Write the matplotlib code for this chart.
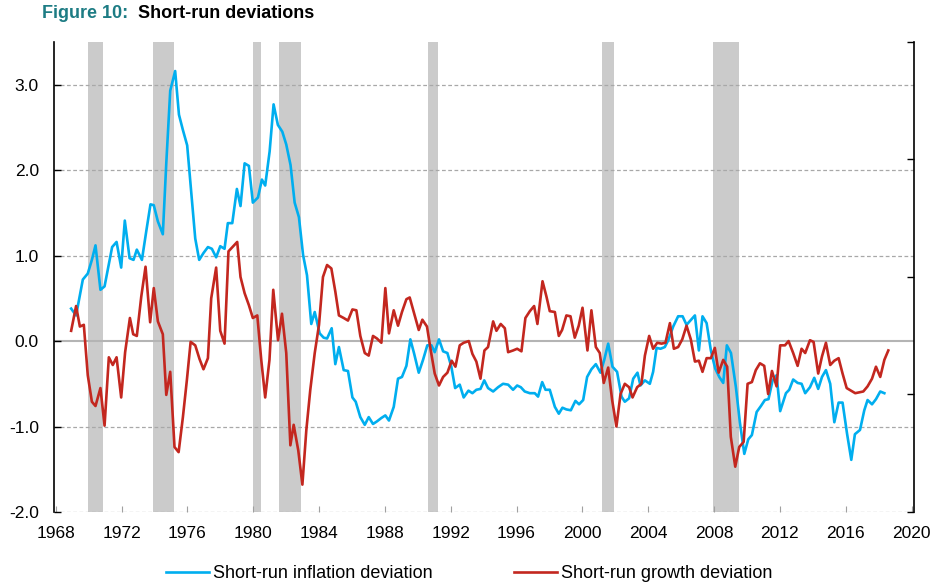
import numpy as np
import matplotlib
matplotlib.use("Agg")
import matplotlib.pyplot as plt

plt.rcParams['font.family'] = ['Liberation Sans', 'DejaVu Sans']
plt.rcParams['axes.unicode_minus'] = False

# short-run inflation deviation
infl_year = [1968.94, 1969.24, 1969.65, 1969.95, 1970.20, 1970.42, 1970.72, 1970.97, 1971.20, 1971.43,
             1971.70, 1971.98, 1972.20, 1972.49, 1972.73, 1972.93, 1973.24, 1973.50, 1973.76, 1973.96,
             1974.21, 1974.51, 1974.72, 1974.96, 1975.26, 1975.49, 1975.73, 1975.99, 1976.24, 1976.48,
             1976.72, 1976.98, 1977.25, 1977.49, 1977.75, 1978.00, 1978.26, 1978.46, 1978.73, 1979.01,
             1979.23, 1979.48, 1979.74, 1979.98, 1980.29, 1980.53, 1980.73, 1981.00, 1981.24, 1981.50,
             1981.77, 1982.01, 1982.27, 1982.52, 1982.78, 1983.03, 1983.27, 1983.53, 1983.74, 1984.04,
             1984.28, 1984.49, 1984.77, 1984.99, 1985.21, 1985.50, 1985.76, 1986.03, 1986.23, 1986.51,
             1986.78, 1987.02, 1987.28, 1987.52, 1987.79, 1988.03, 1988.25, 1988.54, 1988.80, 1989.04,
             1989.31, 1989.55, 1989.77, 1990.06, 1990.32, 1990.58, 1990.83, 1991.03, 1991.29, 1991.54,
             1991.80, 1992.04, 1992.27, 1992.55, 1992.79, 1993.08, 1993.32, 1993.56, 1993.81, 1994.04,
             1994.27, 1994.58, 1994.88, 1995.18, 1995.49, 1995.79, 1996.04, 1996.26, 1996.50, 1996.81,
             1997.11, 1997.31, 1997.56, 1997.76, 1998.02, 1998.33, 1998.57, 1998.79, 1999.03, 1999.30,
             1999.58, 1999.80, 2000.05, 2000.29, 2000.55, 2000.82, 2001.10, 2001.33, 2001.57, 2001.83,
             2002.11, 2002.38, 2002.58, 2002.84, 2003.09, 2003.35, 2003.53, 2003.80, 2004.10, 2004.30,
             2004.51, 2004.75, 2005.01, 2005.22, 2005.52, 2005.82, 2006.09, 2006.33, 2006.84, 2007.08,
             2007.30, 2007.55, 2007.81, 2008.07, 2008.32, 2008.56, 2008.78, 2009.03, 2009.33, 2009.57,
             2009.84, 2010.08, 2010.30, 2010.59, 2010.85, 2011.09, 2011.31, 2011.56, 2011.80, 2012.02,
             2012.37, 2012.57, 2012.81, 2013.08, 2013.32, 2013.54, 2013.83, 2014.09, 2014.33, 2014.56,
             2014.80, 2015.06, 2015.31, 2015.57, 2015.81, 2016.08, 2016.34, 2016.56, 2016.87, 2017.13,
             2017.33, 2017.60, 2017.84, 2018.10, 2018.35]
infl_val = [0.38, 0.30, 0.72, 0.79, 0.95, 1.12, 0.60, 0.64, 0.87, 1.10,
            1.16, 0.86, 1.41, 0.97, 0.95, 1.07, 0.95, 1.28, 1.60, 1.59,
            1.40, 1.25, 2.08, 2.93, 3.16, 2.65, 2.47, 2.29, 1.73, 1.20,
            0.95, 1.03, 1.10, 1.08, 0.98, 1.11, 1.08, 1.38, 1.38, 1.78,
            1.58, 2.08, 2.05, 1.62, 1.68, 1.89, 1.82, 2.22, 2.77, 2.53,
            2.45, 2.30, 2.06, 1.62, 1.45, 1.01, 0.77, 0.20, 0.34, 0.09,
            0.04, 0.03, 0.15, -0.27, -0.07, -0.34, -0.35, -0.66, -0.71, -0.89,
            -0.98, -0.89, -0.97, -0.94, -0.90, -0.87, -0.93, -0.77, -0.44, -0.42,
            -0.29, 0.02, -0.14, -0.37, -0.22, -0.05, -0.05, -0.13, 0.02, -0.12,
            -0.14, -0.30, -0.55, -0.51, -0.66, -0.58, -0.61, -0.57, -0.56, -0.46,
            -0.55, -0.59, -0.54, -0.50, -0.51, -0.57, -0.52, -0.54, -0.59, -0.61,
            -0.61, -0.65, -0.48, -0.57, -0.57, -0.77, -0.85, -0.78, -0.80, -0.81,
            -0.70, -0.74, -0.69, -0.42, -0.33, -0.27, -0.37, -0.22, -0.03, -0.30,
            -0.36, -0.65, -0.71, -0.67, -0.44, -0.37, -0.52, -0.46, -0.50, -0.36,
            -0.08, -0.09, -0.07, 0.01, 0.17, 0.29, 0.29, 0.19, 0.30, -0.11,
            0.29, 0.21, -0.11, -0.32, -0.42, -0.49, -0.05, -0.14, -0.54, -0.95,
            -1.32, -1.15, -1.10, -0.83, -0.76, -0.69, -0.68, -0.46, -0.40, -0.82,
            -0.61, -0.57, -0.45, -0.49, -0.50, -0.61, -0.54, -0.43, -0.56, -0.42,
            -0.34, -0.50, -0.95, -0.72, -0.72, -1.08, -1.39, -1.09, -1.04, -0.81,
            -0.69, -0.74, -0.68, -0.59, -0.61]

# short-run growth deviation
grow_year = [1968.94, 1969.24, 1969.47, 1969.71, 1969.95, 1970.20, 1970.42, 1970.72, 1970.97, 1971.23,
             1971.47, 1971.70, 1971.98, 1972.22, 1972.51, 1972.71, 1972.93, 1973.20, 1973.46, 1973.74,
             1973.96, 1974.21, 1974.51, 1974.72, 1974.96, 1975.22, 1975.47, 1975.73, 1975.97, 1976.20,
             1976.48, 1976.74, 1976.98, 1977.25, 1977.45, 1977.75, 1978.00, 1978.26, 1978.50, 1979.03,
             1979.23, 1979.48, 1979.74, 1979.98, 1980.25, 1980.49, 1980.73, 1980.99, 1981.22, 1981.51,
             1981.75, 1982.01, 1982.26, 1982.46, 1982.74, 1982.99, 1983.23, 1983.47, 1983.74, 1984.00,
             1984.24, 1984.49, 1984.75, 1984.99, 1985.21, 1985.50, 1985.76, 1986.03, 1986.27, 1986.51,
             1986.78, 1987.02, 1987.28, 1987.52, 1987.79, 1988.03, 1988.25, 1988.54, 1988.80, 1989.04,
             1989.31, 1989.51, 1989.77, 1990.06, 1990.28, 1990.56, 1990.79, 1991.03, 1991.29, 1991.54,
             1991.80, 1992.06, 1992.29, 1992.55, 1992.79, 1993.10, 1993.32, 1993.56, 1993.81, 1994.05,
             1994.27, 1994.58, 1994.78, 1995.04, 1995.29, 1995.49, 1995.79, 1996.04, 1996.30, 1996.54,
             1996.81, 1997.07, 1997.27, 1997.58, 1997.82, 1998.02, 1998.33, 1998.57, 1998.77, 1999.03,
             1999.28, 1999.54, 1999.78, 2000.01, 2000.31, 2000.55, 2000.82, 2001.06, 2001.30, 2001.57,
             2001.81, 2002.07, 2002.32, 2002.58, 2002.84, 2003.05, 2003.33, 2003.59, 2003.80, 2004.06,
             2004.30, 2004.55, 2004.81, 2005.05, 2005.32, 2005.56, 2005.82, 2006.07, 2006.33, 2006.59,
             2006.84, 2007.08, 2007.30, 2007.55, 2007.81, 2008.05, 2008.28, 2008.56, 2008.80, 2009.02,
             2009.29, 2009.53, 2009.80, 2010.04, 2010.30, 2010.54, 2010.79, 2011.05, 2011.29, 2011.52,
             2011.80, 2012.02, 2012.31, 2012.53, 2012.81, 2013.08, 2013.32, 2013.54, 2013.83, 2014.05,
             2014.33, 2014.56, 2014.80, 2015.06, 2015.31, 2015.57, 2015.81, 2016.06, 2016.32, 2016.58,
             2017.07, 2017.33, 2017.60, 2017.84, 2018.10, 2018.35, 2018.59]
grow_val = [0.12, 0.41, 0.17, 0.19, -0.40, -0.71, -0.76, -0.55, -0.99, -0.19,
            -0.28, -0.19, -0.66, -0.13, 0.27, 0.08, 0.06, 0.52, 0.87, 0.22,
            0.62, 0.23, 0.08, -0.63, -0.36, -1.24, -1.30, -0.89, -0.46, -0.01,
            -0.05, -0.21, -0.33, -0.20, 0.50, 0.86, 0.12, -0.03, 1.05, 1.16,
            0.75, 0.56, 0.42, 0.27, 0.30, -0.22, -0.66, -0.22, 0.60, 0.01,
            0.32, -0.14, -1.22, -0.98, -1.28, -1.68, -1.04, -0.57, -0.14, 0.19,
            0.75, 0.89, 0.85, 0.58, 0.30, 0.27, 0.24, 0.37, 0.36, 0.06,
            -0.14, -0.17, 0.06, 0.03, -0.02, 0.62, 0.09, 0.36, 0.18, 0.34,
            0.49, 0.51, 0.33, 0.13, 0.25, 0.17, -0.11, -0.38, -0.52, -0.42,
            -0.37, -0.23, -0.30, -0.05, -0.02, 0.00, -0.15, -0.24, -0.44, -0.11,
            -0.07, 0.23, 0.12, 0.20, 0.15, -0.13, -0.11, -0.09, -0.12, 0.27,
            0.35, 0.41, 0.20, 0.70, 0.52, 0.35, 0.34, 0.06, 0.13, 0.30,
            0.29, 0.04, 0.18, 0.39, -0.11, 0.36, -0.07, -0.14, -0.49, -0.31,
            -0.69, -1.00, -0.62, -0.50, -0.54, -0.66, -0.54, -0.50, -0.17, 0.06,
            -0.09, -0.02, -0.03, -0.02, 0.21, -0.09, -0.07, 0.02, 0.18, 0.02,
            -0.24, -0.23, -0.36, -0.20, -0.20, -0.08, -0.37, -0.22, -0.30, -1.12,
            -1.47, -1.24, -1.18, -0.50, -0.48, -0.34, -0.26, -0.29, -0.62, -0.35,
            -0.53, -0.05, -0.05, 0.00, -0.14, -0.29, -0.09, -0.14, 0.01, -0.01,
            -0.38, -0.18, -0.02, -0.28, -0.23, -0.20, -0.38, -0.55, -0.58, -0.61,
            -0.59, -0.53, -0.44, -0.30, -0.42, -0.22, -0.11]

# recessions (start, end)
rec_start = [1969.95, 1973.9, 1980.0, 1981.55, 1990.6, 2001.2, 2007.95]
rec_end = [1970.87, 1975.2, 1980.5, 1982.9, 1991.2, 2001.9, 2009.5]

years = list(range(1968, 2021, 4))
yticks = [-2.0, -1.0, 0.0, 1.0, 2.0, 3.0]

blue = '#00AEEF'
red = '#C3271F'

fig = plt.figure(figsize=(9.38, 5.88), dpi=100)
ax = fig.add_axes([0.0576, 0.1293, 0.9168, 0.7993])

for s, e in zip(rec_start, rec_end):
    ax.axvspan(s, e, color='#CBCBCB', lw=0, zorder=0)

for v in yticks:
    if v == 0:
        ax.axhline(v, color='#B4B4B4', lw=1.5, zorder=1)
    else:
        ax.axhline(v, color='#A8A8A8', lw=0.9, ls=(0, (3, 2)), zorder=1)

ax.plot(infl_year, infl_val, color=blue, lw=1.9, zorder=3, label='Short-run inflation deviation')
ax.plot(grow_year, grow_val, color=red, lw=1.9, zorder=3, label='Short-run growth deviation')

ax.set_xlim(1967.9, 2020.15)
ax.set_ylim(-2.0, 3.5)
ax.set_xticks(years)
ax.set_xticklabels([str(y) for y in years], fontsize=12.5)
ax.set_yticks(yticks)
ax.set_yticklabels(['%.1f' % v for v in yticks], fontsize=12.5)
ax.tick_params(axis='y', direction='in', length=5, width=1, pad=11)
ax.tick_params(axis='x', direction='in', length=4, width=0.8, color='#A0A0A0', pad=10)

ax.spines['top'].set_visible(False)
ax.spines['bottom'].set_visible(False)
ax.spines['right'].set_visible(False)
ax.spines['left'].set_linewidth(1.2)

ax2 = ax.twinx()
ax2.set_ylim(0, 4)
ax2.set_yticks([0, 1, 2, 3, 4])
ax2.set_yticklabels([])
ax2.tick_params(axis='y', direction='in', length=5, width=1)
ax2.spines['top'].set_visible(False)
ax2.spines['bottom'].set_visible(False)
ax2.spines['left'].set_visible(False)
ax2.spines['right'].set_linewidth(1.2)

fig.legend(loc='center', bbox_to_anchor=(0.5, 0.024), ncol=2, frameon=False,
           fontsize=13, handlelength=2.4, handletextpad=0.2, columnspacing=4.5)

fig.text(42 / 938, 1 - 13 / 588, 'Figure 10:', color='#1D7C84', fontsize=13,
         fontweight='bold', va='center', ha='left')
fig.text(138 / 938, 1 - 13 / 588, 'Short-run deviations', color='black', fontsize=13,
         fontweight='bold', va='center', ha='left')

fig.savefig('out.png', dpi=100)
